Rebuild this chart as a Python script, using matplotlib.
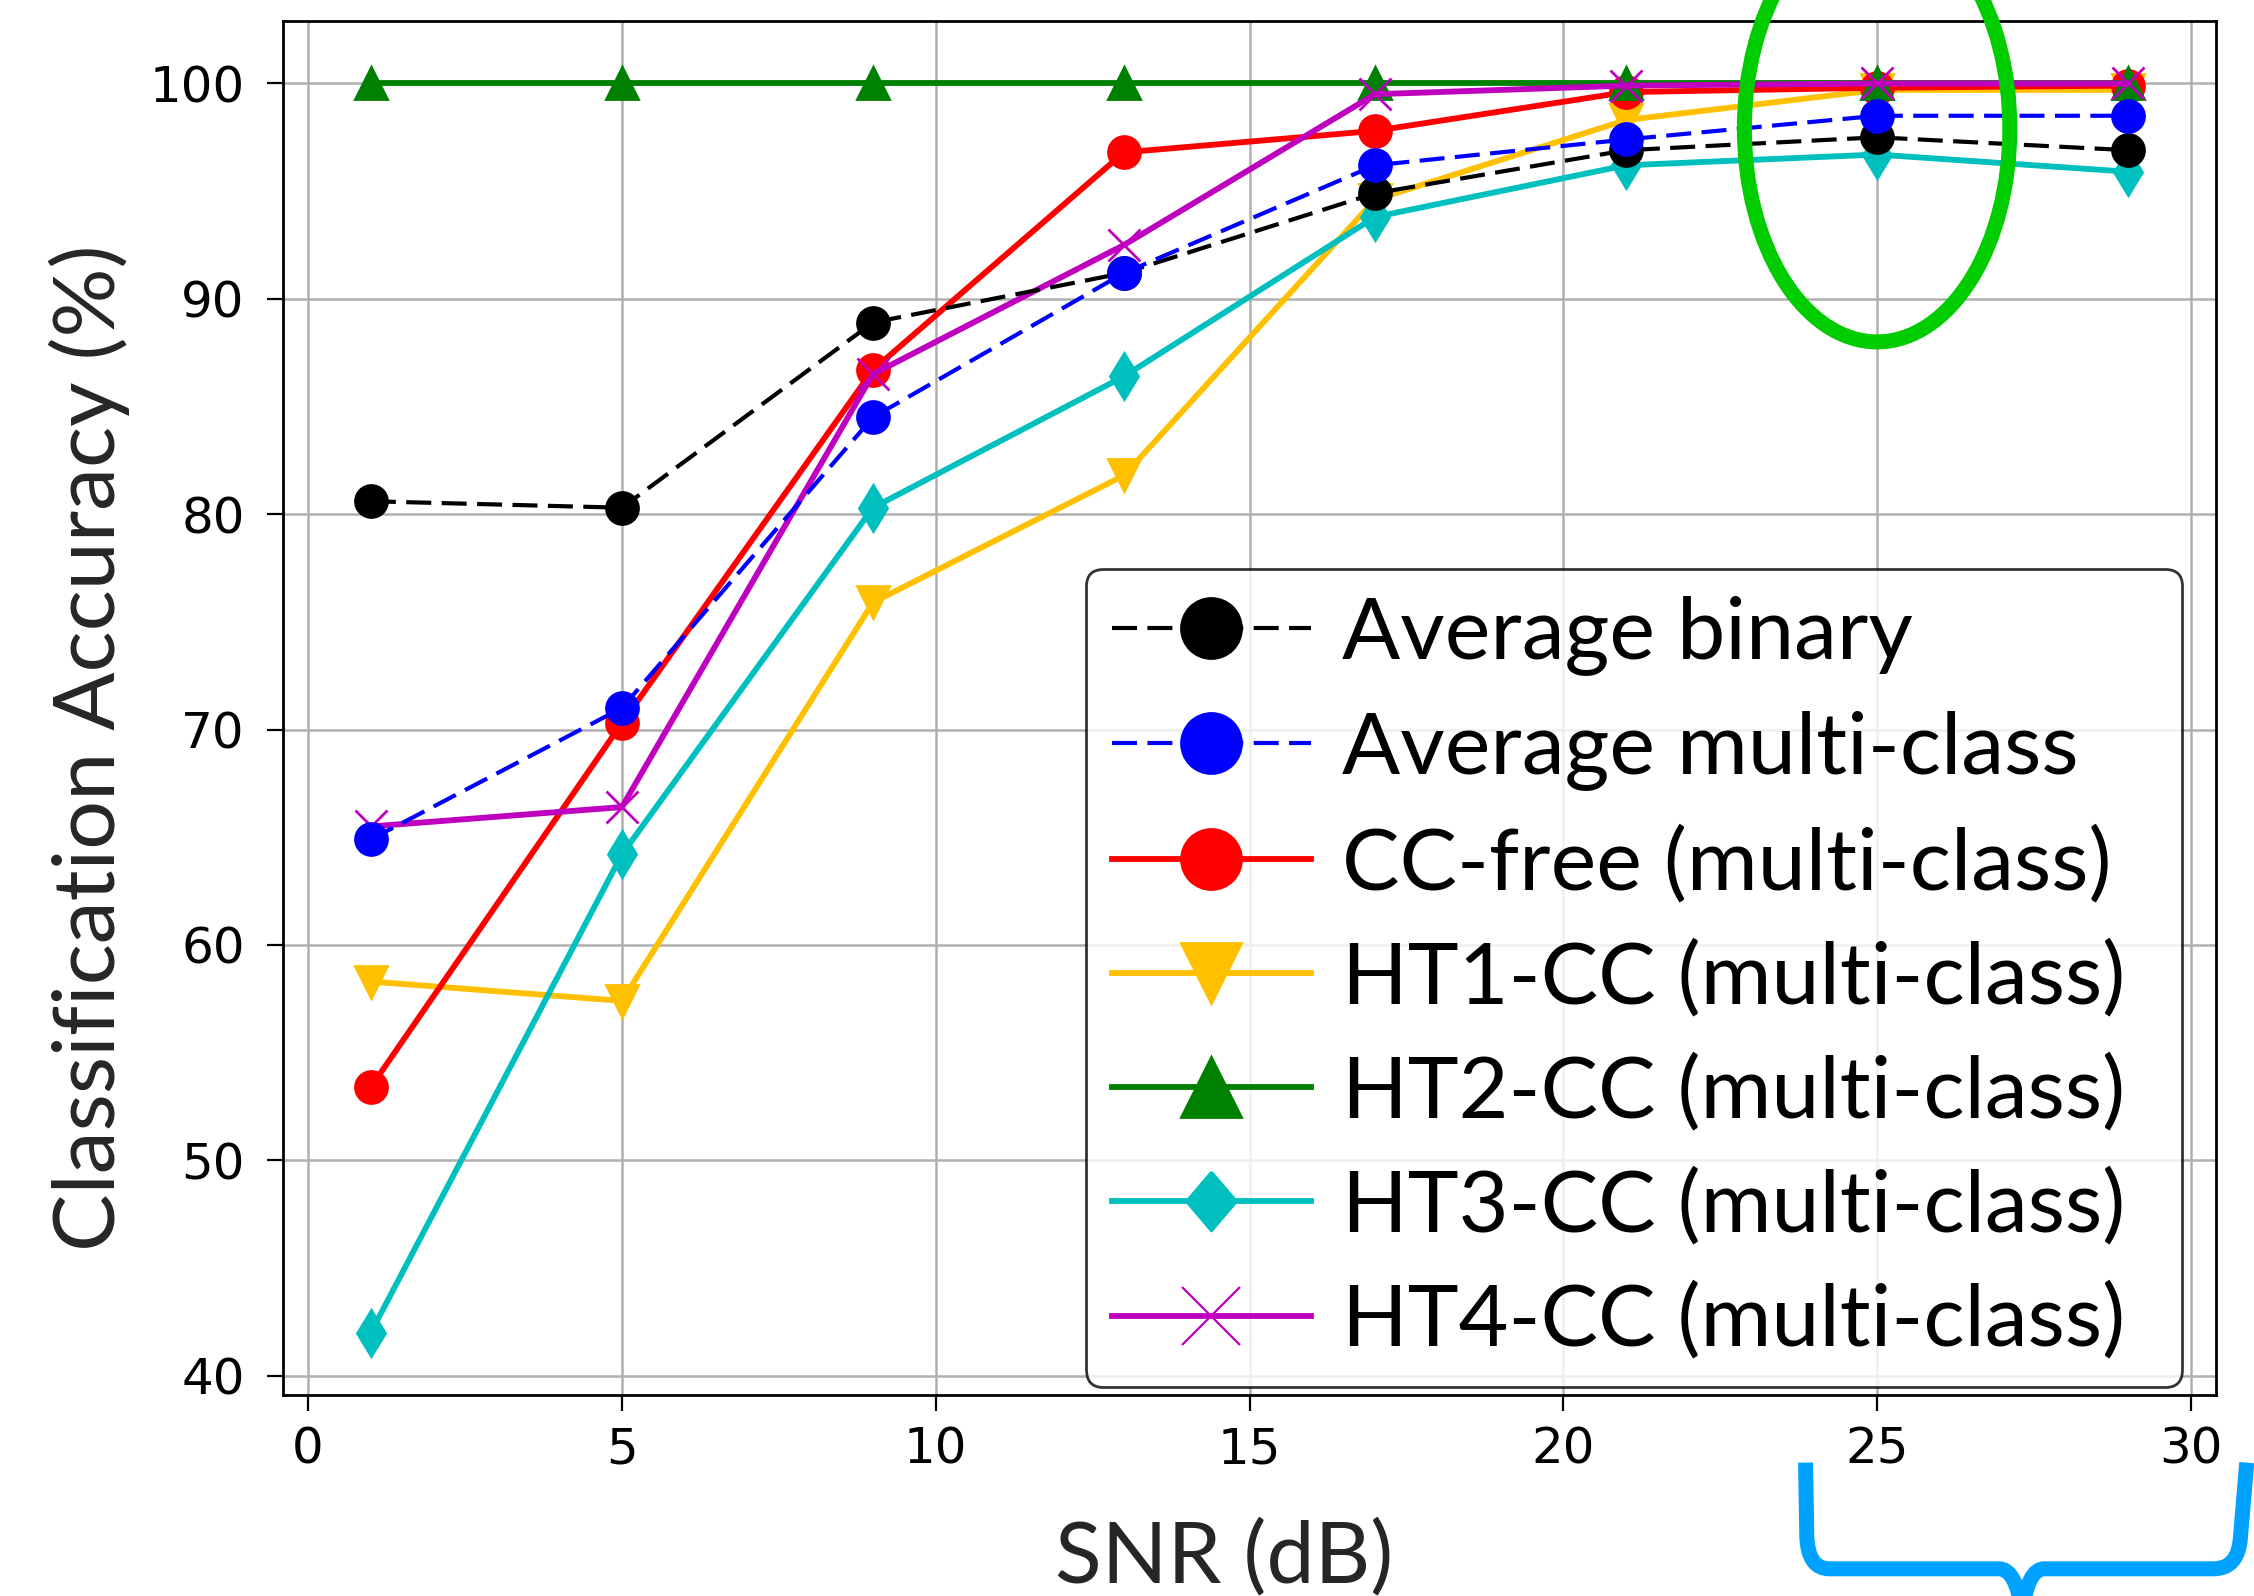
import matplotlib
matplotlib.use("Agg")
import matplotlib.pyplot as plt
from matplotlib.lines import Line2D
from matplotlib.patches import Ellipse, PathPatch
from matplotlib.path import Path

# SNR sweep (dB) and classification accuracy (%) for each detector
snr_db = [1, 5, 9, 13, 17, 21, 25, 29]
avg_binary = [80.6, 80.3, 88.9, 91.2, 94.9, 96.9, 97.5, 96.9]
avg_multi = [64.9, 71.0, 84.5, 91.2, 96.2, 97.4, 98.5, 98.5]
cc_free = [53.4, 70.3, 86.7, 96.8, 97.8, 99.6, 99.8, 99.9]
ht1_cc = [58.3, 57.4, 75.9, 81.8, 94.6, 98.3, 99.7, 99.7]
ht2_cc = [100.0, 100.0, 100.0, 100.0, 100.0, 100.0, 100.0, 100.0]
ht3_cc = [42.0, 64.2, 80.3, 86.4, 93.8, 96.2, 96.7, 95.9]
ht4_cc = [65.5, 66.4, 86.5, 92.5, 99.5, 99.9, 100.0, 100.0]

series_labels = [
    "Average binary",
    "Average multi-class",
    "CC-free (multi-class)",
    "HT1-CC (multi-class)",
    "HT2-CC (multi-class)",
    "HT3-CC (multi-class)",
    "HT4-CC (multi-class)",
]
x_ticks = [0, 5, 10, 15, 20, 25, 30]
y_ticks = [40, 50, 60, 70, 80, 90, 100]
x_label = "SNR (dB)"
y_label = "Classification Accuracy (%)"

W, H, DPI = 2254, 1596, 200
fig = plt.figure(figsize=(W / DPI, H / DPI), dpi=DPI)
ax = fig.add_axes([283 / W, 1 - 1395 / H, 1933 / W, 1374 / H])

LW = 2.1        # solid curves
LW_D = 1.5      # dashed averages
MS = 11.5
DASH = (6.0, 2.5)
ORANGE = "#FFC000"

ax.plot(snr_db, ht1_cc, color=ORANGE, marker="v", ms=MS, lw=LW)
ax.plot(snr_db, cc_free, color="r", marker="o", ms=MS, lw=LW)
ax.plot(snr_db, ht2_cc, color="g", marker="^", ms=MS, lw=LW)
ax.plot(snr_db, ht3_cc, color="c", marker="d", ms=MS, lw=LW)
ax.plot(snr_db, ht4_cc, color="m", marker="x", ms=MS, mew=1.0, lw=LW)
ax.plot(snr_db, avg_binary, color="k", ls="--", dashes=DASH, marker="o", ms=MS, lw=LW_D)
ax.plot(snr_db, avg_multi, color="b", ls="--", dashes=DASH, marker="o", ms=MS, lw=LW_D)

# freeze the data-driven limits before adding the annotation shapes
ax.autoscale_view()
ax.set_xlim(ax.get_xlim())
ax.set_ylim(ax.get_ylim())

ax.set_xticks(x_ticks)
ax.set_yticks(y_ticks)
ax.grid(True, color="#b0b0b0", lw=0.9)
ax.set_axisbelow(True)
ax.tick_params(axis="both", direction="out", length=5.8, width=0.8,
               labelsize=18, labelcolor="black")
ax.tick_params(axis="y", pad=8)
ax.tick_params(axis="x", pad=5)
for sp in ax.spines.values():
    sp.set_linewidth(1.0)
    sp.set_color("black")

ax.set_xlabel(x_label, fontfamily="Lato", fontsize=31, color="#262626")
ax.set_ylabel(y_label, fontfamily="Lato", fontsize=31, color="#262626")
ax.xaxis.label.set_va("baseline")
ax.yaxis.label.set_va("baseline")
ax.xaxis.set_label_coords(0.487, -0.1368)
ax.yaxis.set_label_coords(-0.0869, 0.471)

# legend with enlarged marker glyphs
diamond = [(0, 1), (0.85, 0), (0, -1), (-0.85, 0), (0, 1)]
LMS = 21.6
handles = [
    Line2D([], [], color="k", ls="--", dashes=DASH, marker="o", ms=LMS, lw=LW_D),
    Line2D([], [], color="b", ls="--", dashes=DASH, marker="o", ms=LMS, lw=LW_D),
    Line2D([], [], color="r", marker="o", ms=LMS, lw=LW),
    Line2D([], [], color=ORANGE, marker="v", ms=LMS, lw=LW),
    Line2D([], [], color="g", marker="^", ms=LMS, lw=LW),
    Line2D([], [], color="c", marker=diamond, ms=21.2, lw=LW),
    Line2D([], [], color="m", marker="x", ms=21.0, mew=0.8, lw=LW),
]
ax.legend(handles, series_labels, loc="upper left", mode="expand",
          bbox_to_anchor=(0.4153, 0.0211, 0.567, 0.5801), borderaxespad=0,
          prop={"family": "Lato", "size": 31}, handlelength=2.32,
          handletextpad=0.36, labelspacing=0.41, borderpad=0.3,
          fancybox=True, edgecolor="black", framealpha=0.8)

# highlight around the high-SNR point
ax.add_patch(Ellipse((25, 97.9), width=4.23, height=19.8, fill=False,
                     ec="#00CC00", lw=5.4, clip_on=False, zorder=10))

# curly brace under the 25-30 dB range
verts = [
    (23.86, 35.96), (23.88, 32.52),
    (23.90, 31.03), (24.24, 31.03),
    (26.94, 31.03),
    (27.22, 31.03), (27.31, 29.0),
    (27.40, 31.03), (27.66, 31.03),
    (30.36, 31.03),
    (30.76, 31.03), (30.79, 32.52),
    (30.89, 35.96),
]
codes = [
    Path.MOVETO, Path.LINETO,
    Path.CURVE3, Path.CURVE3,
    Path.LINETO,
    Path.CURVE3, Path.CURVE3,
    Path.CURVE3, Path.CURVE3,
    Path.LINETO,
    Path.CURVE3, Path.CURVE3,
    Path.LINETO,
]
ax.add_patch(PathPatch(Path(verts, codes), fill=False, ec="#00A2FF", lw=5.4,
                       clip_on=False, zorder=10, joinstyle="round"))

fig.savefig("out.png", dpi=DPI)
